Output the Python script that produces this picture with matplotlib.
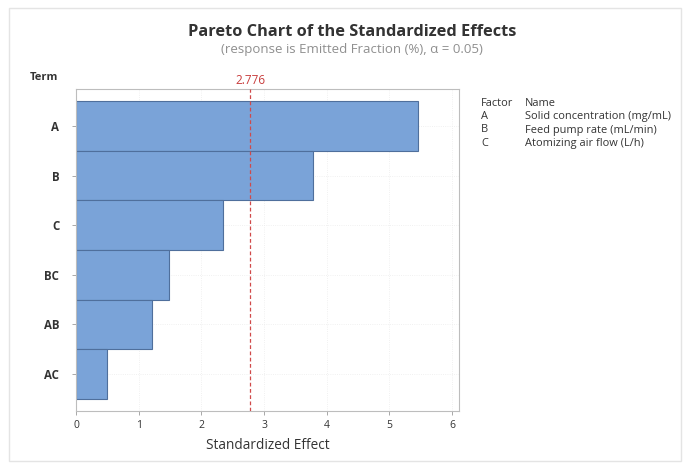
import matplotlib
matplotlib.use("Agg")
import matplotlib.pyplot as plt
from matplotlib.patches import Rectangle

# Standardized effects per term (largest first)
terms = ["A", "B", "C", "BC", "AB", "AC"]
effects = [5.45, 3.78, 2.35, 1.48, 1.21, 0.50]
critical_value = 2.776

factor_codes = ["A", "B", "C"]
factor_names = ["Solid concentration (mg/mL)", "Feed pump rate (mL/min)", "Atomizing air flow (L/h)"]
x_ticks = [0, 1, 2, 3, 4, 5, 6]

plt.rcParams["font.family"] = ["Open Sans", "DejaVu Sans"]

W, H = 684, 466
fig = plt.figure(figsize=(W / 100, H / 100), dpi=100)
fig.patch.set_facecolor("white")

# outer frame of the graph window
fig.add_artist(Rectangle((9 / W, 1 - 461 / H), (681 - 9) / W, (461 - 8) / H,
                         transform=fig.transFigure, fill=False,
                         edgecolor="#e4e4e4", linewidth=1.0))

ax = fig.add_axes([76 / W, 1 - 411 / H, (459 - 76) / W, (411 - 89) / H])

n = len(terms)
ypos = list(range(n - 1, -1, -1))
ax.barh(ypos, effects, height=1.0, color="#7aa3d8", edgecolor="#4f6f9c",
        linewidth=0.8, zorder=2)

ax.set_xlim(0, 6.11)
ax.set_ylim(-0.75, n - 0.25)
ax.set_xticks(x_ticks)
ax.set_xticklabels([str(t) for t in x_ticks], fontsize=7.5, color="#333333")
ax.set_yticks(ypos)
ax.set_yticklabels(terms, fontsize=8.3, color="#333333", fontweight="bold")

ax.grid(True, color="#ececec", linewidth=0.6, linestyle=":", zorder=0)
for s in ax.spines.values():
    s.set_color("#bdbdbd")
    s.set_linewidth(0.8)
ax.tick_params(axis="both", colors="#9a9a9a", length=3, width=0.6,
               labelcolor="#333333")
ax.tick_params(axis="y", pad=9)

# critical t-value reference line
ax.axvline(critical_value, color="#d04a4a", linestyle=(0, (3, 2)),
           linewidth=0.9, zorder=3)
ax.text(critical_value, n - 0.25 + 0.04, f"{critical_value:.3f}",
        color="#c83c3c", fontsize=8.5, ha="center", va="bottom")

ax.set_xlabel("Standardized Effect", fontsize=9.8, color="#333333", labelpad=5)

fig.text(30 / W, 1 - 78 / H, "Term", fontsize=8, color="#333333",
         fontweight="bold", ha="left", va="center")

fig.text(352 / W, 1 - 32 / H, "Pareto Chart of the Standardized Effects",
         fontsize=11.8, color="#333333", fontweight="bold", ha="center", va="center")
fig.text(352 / W, 1 - 50 / H, "(response is Emitted Fraction (%), \u03b1 = 0.05)",
         fontsize=9.5, color="#8f8f8f", ha="center", va="center")

# factor legend
fig.text(481 / W, 1 - 103 / H, "Factor", fontsize=7.9, color="#333333", va="center")
fig.text(525 / W, 1 - 103 / H, "Name", fontsize=7.9, color="#333333", va="center")
for i, (code, name) in enumerate(zip(factor_codes, factor_names)):
    yy = 1 - (116.5 + i * 13.5) / H
    fig.text(481 / W, yy, code, fontsize=7.9, color="#333333", va="center")
    fig.text(525 / W, yy, name, fontsize=7.9, color="#333333", va="center")

fig.savefig("out.png", dpi=100, facecolor="white")
